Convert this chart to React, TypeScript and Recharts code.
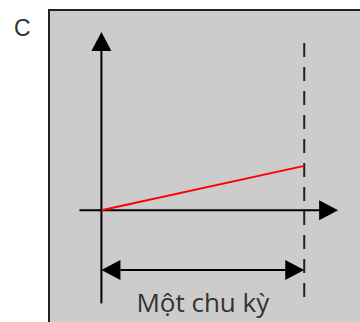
import React from 'react';
import { LineChart, Line, XAxis, YAxis, ReferenceLine } from 'recharts';

// one period T = 1 on the time axis, red value ends at 1 after one period
const rampPoints = [
  { t: 0, v: 0 },
  { t: 1, v: 1 },
];
const xDomain = [-0.5, 1.275];
const yDomain = [-2.52, 4.74];
const verticalAxis = [-2.1, 4.02]; // from bottom to tip
const horizontalAxis = [-0.108, 1.167]; // from left to tip
const periodMarker = [3.77, -1.96]; // dashed line at t = 1
const periodArrowLevel = -1.35;
const periodLabel = 'Một chu kỳ';
const panelLabel = 'C';

type SegProps = { x1?: number; y1?: number; x2?: number; y2?: number };

// line ending in a filled triangle at (x2, y2)
const ArrowLine = (props: SegProps) => {
  const { x1 = 0, y1 = 0, x2 = 0, y2 = 0 } = props;
  const len = Math.hypot(x2 - x1, y2 - y1) || 1;
  const ux = (x2 - x1) / len;
  const uy = (y2 - y1) / len;
  const bx = x2 - ux * 19;
  const by = y2 - uy * 19;
  const pts = `${x2},${y2} ${bx - uy * 10},${by + ux * 10} ${bx + uy * 10},${by - ux * 10}`;
  return (
    <g>
      <line x1={x1} y1={y1} x2={bx} y2={by} stroke='#000' strokeWidth={2} />
      <polygon points={pts} fill='#000' />
    </g>
  );
};

// arrow with heads on both ends, label underneath
const DoubleArrow = (props: SegProps) => {
  const { x1 = 0, y1 = 0, x2 = 0, y2 = 0 } = props;
  return (
    <g>
      <line x1={x1 + 19} y1={y1} x2={x2 - 19} y2={y2} stroke='#000' strokeWidth={2} />
      <polygon points={`${x1},${y1} ${x1 + 19},${y1 - 10} ${x1 + 19},${y1 + 10}`} fill='#000' />
      <polygon points={`${x2},${y2} ${x2 - 19},${y2 - 10} ${x2 - 19},${y2 + 10}`} fill='#000' />
      <text
        x={(x1 + x2) / 2}
        y={y1 + 42}
        textAnchor='middle'
        fontFamily='Open Sans, sans-serif'
        fontSize={26}
        fill='#333'
      >
        {periodLabel}
      </text>
    </g>
  );
};

const App = () => {
  return (
    <div style={{ position: 'absolute', left: 0, top: 0, width: 360, height: 322, overflow: 'hidden', background: '#fff' }}>
      <div
        style={{
          position: 'absolute',
          left: 48,
          top: 9,
          width: 330,
          height: 330,
          background: '#cccccc',
          border: '2px solid #222',
        }}
      />
      <svg width={60} height={50} style={{ position: 'absolute', left: 0, top: 0 }}>
        <text x={14} y={36} fontFamily='Liberation Sans, Arial, sans-serif' fontSize={23} fill='#333'>
          {panelLabel}
        </text>
      </svg>
      <div style={{ position: 'absolute', left: 0, top: 0 }}>
        <LineChart width={360} height={322} data={rampPoints} margin={{ top: 0, right: 0, bottom: 0, left: 0 }}>
          <XAxis dataKey='t' type='number' domain={xDomain} hide allowDataOverflow />
          <YAxis type='number' domain={yDomain} hide allowDataOverflow />
          <ReferenceLine
            segment={[{ x: 0, y: verticalAxis[0] }, { x: 0, y: verticalAxis[1] }]}
            ifOverflow='visible'
            shape={ArrowLine}
          />
          <ReferenceLine
            segment={[{ x: horizontalAxis[0], y: 0 }, { x: horizontalAxis[1], y: 0 }]}
            ifOverflow='visible'
            shape={ArrowLine}
          />
          <ReferenceLine
            segment={[{ x: 1, y: periodMarker[0] }, { x: 1, y: periodMarker[1] }]}
            ifOverflow='visible'
            stroke='#222'
            strokeWidth={2}
            strokeDasharray='14 10'
          />
          <ReferenceLine
            segment={[{ x: 0, y: periodArrowLevel }, { x: 1, y: periodArrowLevel }]}
            ifOverflow='visible'
            shape={DoubleArrow}
          />
          <Line
            dataKey='v'
            stroke='#ff0000'
            strokeWidth={2}
            dot={false}
            activeDot={false}
            isAnimationActive={false}
            type='linear'
          />
        </LineChart>
      </div>
    </div>
  );
};

export default App;
